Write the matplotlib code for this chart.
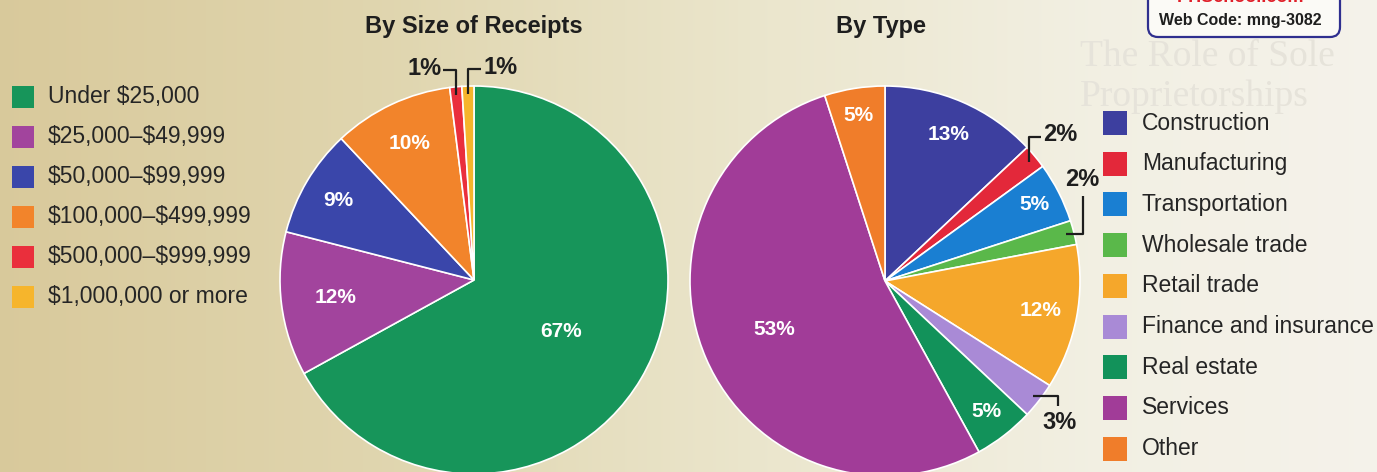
import numpy as np
import matplotlib.pyplot as plt
from matplotlib.patches import Rectangle, FancyBboxPatch

plt.rcParams['font.family'] = ['Liberation Sans', 'DejaVu Sans']

W, H = 1377, 472

# left pie: sole proprietorships by size of receipts (percent)
size_labels = ['Under $25,000', '$25,000\u2013$49,999', '$50,000\u2013$99,999',
               '$100,000\u2013$499,999', '$500,000\u2013$999,999', '$1,000,000 or more']
size_values = [67, 12, 9, 10, 1, 1]
size_colors = ['#17955a', '#a2449d', '#3a46aa', '#f2842b', '#ea2f3c', '#f6b52c']

# right pie: by type of business (percent)
type_labels = ['Construction', 'Manufacturing', 'Transportation', 'Wholesale trade',
               'Retail trade', 'Finance and insurance', 'Real estate', 'Services', 'Other']
type_values = [13, 2, 5, 2, 12, 3, 5, 53, 5]
type_colors = ['#3d3f9f', '#e3283a', '#1a7fd2', '#5ab84a', '#f5a72b',
               '#a98ad6', '#12925a', '#a13c98', '#f07d2a']

fig = plt.figure(figsize=(W / 100, H / 100), dpi=100)
ax = fig.add_axes([0, 0, 1, 1])

# paper background, tan on the left fading to off-white
gx = [0, 400, 750, 1100, W]
gc = np.array([[0.85, 0.79, 0.61],
               [0.88, 0.84, 0.69],
               [0.92, 0.90, 0.80],
               [0.95, 0.94, 0.89],
               [0.96, 0.95, 0.92]])
xs = np.linspace(0, W, 500)
bg = np.stack([np.interp(xs, gx, gc[:, k]) for k in range(3)], axis=-1)[None, :, :]
ax.imshow(bg, extent=[0, W, 0, H], aspect='auto', zorder=0)

# faint bleed-through heading from the page behind
ax.text(1080, H - 57, 'The Role of Sole', fontsize=27, family='Liberation Serif',
        color='#e6e3da', va='center', zorder=1)
ax.text(1080, H - 97, 'Proprietorships', fontsize=27, family='Liberation Serif',
        color='#e6e3da', va='center', zorder=1)

wp = dict(edgecolor='white', linewidth=1.2)
w1, _ = ax.pie(size_values, colors=size_colors, startangle=90, counterclock=False,
               center=(474, H - 280), radius=194, wedgeprops=wp)
w2, _ = ax.pie(type_values, colors=type_colors, startangle=90, counterclock=False,
               center=(885, H - 281), radius=195, wedgeprops=wp)


def wedge_point(w, f):
    a = np.deg2rad((w.theta1 + w.theta2) / 2)
    return w.center[0] + f * w.r * np.cos(a), w.center[1] + f * w.r * np.sin(a)


# inside labels
size_lab_r = [0.52, 0.72, 0.81, 0.78, None, None]
type_lab_r = [0.82, None, 0.86, None, 0.81, None, 0.85, 0.62, 0.86]
for wedges, vals, rs in [(w1, size_values, size_lab_r), (w2, type_values, type_lab_r)]:
    for w, v, r in zip(wedges, vals, rs):
        if r is None:
            continue
        x, y = wedge_point(w, r)
        ax.text(x, y, f'{v}%', color='white', fontsize=15, fontweight='bold',
                ha='center', va='center', zorder=5)

# callouts for the thin slices: (wedge, value, leader path offsets, text offset, ha)
callouts = [
    (w1[4], size_values[4], [(0, 0), (0, 25), (-13, 25)], (-15, 26), 'right'),
    (w1[5], size_values[5], [(0, 0), (0, 25), (13, 25)], (15, 26), 'left'),
    (w2[1], type_values[1], [(0, 0), (0, 25), (12, 25)], (14, 27), 'left'),
    (w2[3], type_values[3], [(0, 0), (17, 0), (17, 38)], (16, 55), 'center'),
    (w2[5], type_values[5], [(0, 0), (25, 0), (25, -10)], (27, -27), 'center'),
]
for w, v, path, toff, ha in callouts:
    x0, y0 = wedge_point(w, 0.96)
    px = [x0 + p[0] for p in path]
    py = [y0 + p[1] for p in path]
    ax.plot(px, py, color='#1e1e1e', lw=1.6, zorder=6, solid_capstyle='butt')
    ax.text(x0 + toff[0], y0 + toff[1], f'{v}%', fontsize=17, fontweight='bold',
            color='#1e1e1e', ha=ha, va='center', zorder=6)

# titles
ax.text(474, H - 26, 'By Size of Receipts', fontsize=17, fontweight='bold',
        color='#1e1e1e', ha='center', va='center')
ax.text(881, H - 26, 'By Type', fontsize=17, fontweight='bold',
        color='#1e1e1e', ha='center', va='center')

# legends
for i, (lab, col) in enumerate(zip(size_labels, size_colors)):
    yc = H - (97 + 40 * i)
    ax.add_patch(Rectangle((12, yc - 11), 22, 22, color=col, lw=0, zorder=4))
    ax.text(48, yc, lab, fontsize=16.5, color='#252525', va='center', zorder=4,
            parse_math=False)

for i, (lab, col) in enumerate(zip(type_labels, type_colors)):
    yc = H - (123 + 40.7 * i)
    ax.add_patch(Rectangle((1103, yc - 12), 24, 24, color=col, lw=0, zorder=4))
    ax.text(1142, yc, lab, fontsize=16.5, color='#252525', va='center', zorder=4)

# web code box at the top right, its top runs off the page
ax.add_patch(FancyBboxPatch((1148, H - 37), 192, 70, boxstyle='round,pad=0,rounding_size=10',
                            facecolor='#fbfaf6', edgecolor='#2f2f8f', lw=1.6, zorder=3))
ax.text(1240, H + 3, 'PHSchool.com', fontsize=13, fontweight='bold', color='#e0202a',
        ha='center', va='center', zorder=4)
ax.text(1240, H - 20, 'Web Code: mng-3082', fontsize=11.5, fontweight='bold',
        color='#1e1e1e', ha='center', va='center', zorder=4)

ax.set_xlim(0, W)
ax.set_ylim(0, H)
ax.set_aspect('auto')
ax.axis('off')

fig.savefig('out.png', dpi=100)
